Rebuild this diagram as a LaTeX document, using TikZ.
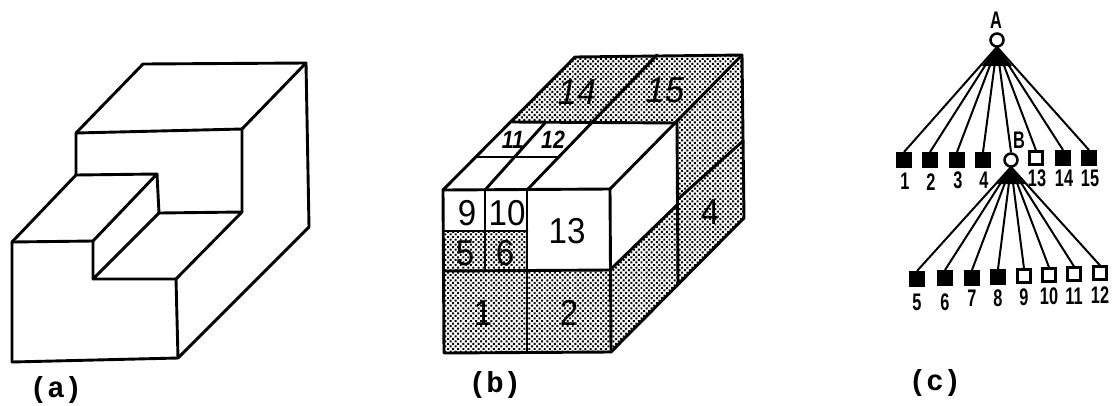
\documentclass[tikz,border=0pt]{standalone}
\usepackage{fontspec}
\setmainfont{Liberation Sans}
\setmonofont{Liberation Mono}
\usetikzlibrary{patterns.meta}
\tikzset{
  edge/.style={line width=2.9pt,line join=round,line cap=round},
  stipple/.style={pattern={Dots[angle=45,distance=3.6pt,radius=1.4pt]},pattern color=black},
  fullbox/.style={draw,fill=black,line width=1pt,minimum size=15pt,inner sep=0pt},
  openbox/.style={draw,fill=white,line width=2.2pt,minimum size=13pt,inner sep=0pt},
  hub/.style={circle,draw,fill=white,line width=2.5pt,minimum size=13pt,inner sep=0pt},
  fan/.style={line width=2pt},
  caption/.style={font=\ttfamily\bfseries\fontsize{29}{29}\selectfont,inner sep=0pt},
  cell/.style={font=\fontsize{36}{36}\selectfont,inner sep=0pt,xscale=.92},
  tilted/.style={font=\itshape\fontsize{36}{36}\selectfont,inner sep=0pt,xscale=.95},
  small/.style={font=\itshape\bfseries\fontsize{25}{25}\selectfont,inner sep=0pt,xscale=.85},
  leaf/.style={font=\bfseries\fontsize{24}{24}\selectfont,inner sep=0pt,xscale=.68}
}
\begin{document}
\begin{tikzpicture}[x=1pt,y=-1pt]
  \useasboundingbox (0,0) rectangle (1113,405);
  % (a)
  \draw[edge] (12,242)--(12,362)--(178,358)--(176,279)--(93,279)--(93,241)--cycle;
  \draw[edge] (12,242)--(76,175)--(157,174)--(93,241);
  \draw[edge] (157,174)--(159,213)--(93,279);
  \draw[edge] (159,213)--(242,212)--(176,279);
  \draw[edge] (76,175)--(76,133)--(242,129)--(242,212);
  \draw[edge] (76,133)--(143,64)--(306,63)--(242,129);
  \draw[edge] (306,63)--(309,227)--(178,358);
  \node[caption] (capa) at (56,390) {(a)};
  % (b)
  \fill[stipple] (444,231)--(527,231)--(527,270)--(610,270)--(611,352)--(444,353)--cycle;
  \fill[stipple] (610,270)--(678,204)--(678,284)--(611,352)--cycle;
  \fill[stipple] (677,123)--(742,55)--(744,218)--(678,284)--cycle;
  \fill[stipple] (512,122)--(575,57)--(742,55)--(677,123)--cycle;
  \draw[edge] (443,190)--(444,353)--(611,352)--(744,218)--(742,55)--(575,57)--cycle;
  \draw[edge] (443,190)--(610,189)--(611,352);
  \draw[edge] (444,271)--(610,270)--(678,204);
  \draw[edge] (527,190)--(527,352);
  \draw[edge] (485,190)--(485,271);
  \draw[edge] (444,231)--(527,231);
  \draw[edge] (512,122)--(677,123)--(678,284);
  \draw[edge] (477,157)--(557,157);
  \draw[edge] (485,190)--(545,123);
  \draw[edge] (527,190)--(657,55);
  \draw[edge] (610,189)--(742,55);
  \draw[edge] (678,199)--(743,141);
  \foreach \x/\y/\lab/\sty in {467/213/9/cell,507/213/10/cell,465/253/5/cell,505/253/6/cell,
      567/231/13/cell,483/313/1/cell,569/313/2/cell,710/212/4/cell,
      577/92/14/tilted,665/90/15/tilted,513/140/11/small,553/140/12/small}
    \node[\sty] (b\lab) at (\x,\y) {\lab};
  \node[caption] (capb) at (495,385) {(b)};
  % (c)
  \coordinate (tipA) at (997,47);
  \coordinate (tipB) at (1011,167);
  \foreach \x/\y/\lab/\ly/\sty in {904/160/1/181/fullbox,930/160/2/182/fullbox,957/160/3/180/fullbox,
      983/160/4/180/fullbox,1036/158/13/178/openbox,1063/158/14/178/fullbox,1089/158/15/178/fullbox}
  {
    \node[\sty] (t\lab) at (\x,\y) {};
    \node[leaf] (tl\lab) at (\x+1,\ly) {\lab};
    \draw[fan] (tipA)--(t\lab.north);
  }
  \node[hub] (nodeB) at (1011,160) {};
  \draw[fan] (tipA)--(nodeB.north);
  \node[hub] (nodeA) at (997,40) {};
  \node[leaf] (labA) at (996,20) {A};
  \node[leaf] (labB) at (1019,140) {B};
  \fill (tipA)--(982,66)--(1012,66)--cycle;
  \foreach \x/\y/\lab/\ly/\sty in {917/279/5/302/fullbox,945/278/6/302/fullbox,972/278/7/298/fullbox,
      998/277/8/298/fullbox,1024/276/9/297/openbox,1049/275/10/296/openbox,1074/274/11/296/openbox,
      1100/273/12/295/openbox}
  {
    \node[\sty] (u\lab) at (\x,\y) {};
    \node[leaf] (ul\lab) at (\x,\ly) {\lab};
    \draw[fan] (tipB)--(u\lab.north);
  }
  \fill (tipB)--(997,184)--(1027,184)--cycle;
  \node[caption] (capc) at (935,383) {(c)};
\end{tikzpicture}
\end{document}
